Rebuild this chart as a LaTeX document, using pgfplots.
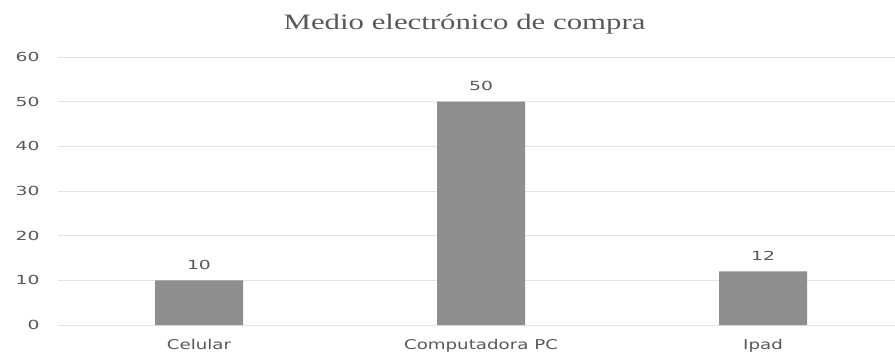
\documentclass[border=0pt]{standalone}
\usepackage{fontspec}
\usepackage{pgfplots}
\pgfplotsset{compat=1.18}
\setmainfont{DejaVu Sans}
\newfontfamily\titlefont[FakeStretch=1.4]{Liberation Serif}
\newfontfamily\catfont[FakeStretch=1.35]{DejaVu Sans}
\newfontfamily\numfont[FakeStretch=1.5]{DejaVu Sans}
\definecolor{txtgray}{HTML}{595959}
\definecolor{bargray}{HTML}{8E8E8E}
\definecolor{gridgray}{HTML}{E3E3E3}
\begin{document}
\begin{tikzpicture}
\path[use as bounding box] (-58bp,-27bp) rectangle (837bp,325bp);
\begin{axis}[
  at={(0,0)}, anchor=south west,
  scale only axis,
  width=837bp, height=268bp,
  xmin=-0.5, xmax=2.468,
  ymin=0, ymax=60,
  ytick={0,10,20,30,40,50,60},
  xtick={0,1,2},
  xticklabels={Celular,Computadora PC,Ipad},
  axis line style={draw=none},
  ymajorgrids,
  major grid style={gridgray, line width=0.8pt},
  major tick length=0pt,
  tick style={draw=none},
  clip=false,
  /pgf/number format/assume math mode=true,
  yticklabel style={font=\numfont\fontsize{12.5bp}{14bp}\selectfont, text=txtgray, anchor=east, xshift=-15bp},
  xticklabel style={font=\catfont\fontsize{13.5bp}{15bp}\selectfont, text=txtgray, anchor=north, yshift=-11bp},
  title={Medio electrónico de compra},
  title style={font=\titlefont\fontsize{22bp}{24bp}\selectfont, text=txtgray, at={(axis description cs:0.4857,1)}, anchor=center, yshift=27bp},
  ybar, bar width=88bp,
  nodes near coords,
  nodes near coords style={font=\numfont\fontsize{12.5bp}{14bp}\selectfont, text=txtgray, anchor=south, yshift=7bp},
]
% cantidad de encuestados por medio de compra
\addplot[fill=bargray, draw=none] coordinates {(0,10) (1,50) (2,12)};
\end{axis}
\end{tikzpicture}
\end{document}
